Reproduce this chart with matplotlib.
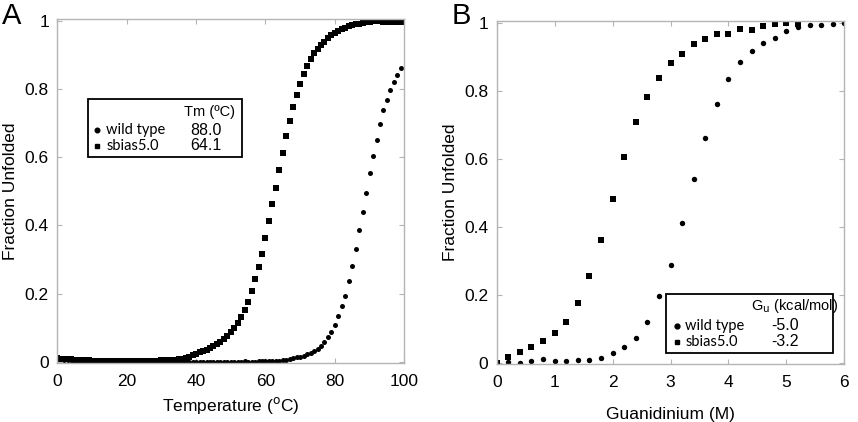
import matplotlib
matplotlib.use('Agg')
import matplotlib.pyplot as plt
from matplotlib.patches import Rectangle

plt.rcParams['font.family'] = ['Liberation Sans', 'DejaVu Sans']

# panel A: thermal melt, fraction unfolded vs temperature (C)
temp_sbias = list(range(0, 101))
frac_sbias = [0.010, 0.009, 0.008, 0.008, 0.007, 0.006, 0.005, 0.005, 0.004, 0.004,
              0.003, 0.003, 0.003, 0.002, 0.002, 0.002, 0.002, 0.002, 0.002, 0.002,
              0.002, 0.002, 0.002, 0.002, 0.002, 0.002, 0.003, 0.003, 0.003, 0.003,
              0.004, 0.004, 0.005, 0.005, 0.006, 0.007, 0.009, 0.012, 0.015, 0.019,
              0.022, 0.027, 0.030, 0.035, 0.040, 0.046, 0.052, 0.059, 0.066, 0.075,
              0.086, 0.098, 0.113, 0.132, 0.152, 0.176, 0.208, 0.243, 0.278, 0.316,
              0.364, 0.413, 0.463, 0.510, 0.564, 0.612, 0.662, 0.706, 0.748, 0.784,
              0.815, 0.846, 0.869, 0.888, 0.907, 0.918, 0.930, 0.940, 0.950, 0.958,
              0.965, 0.971, 0.977, 0.981, 0.985, 0.988, 0.991, 0.993, 0.995, 0.997,
              0.998, 0.999, 1.000, 0.999, 0.998, 0.998, 0.997, 0.997, 0.996, 0.996,
              0.996]
temp_wt = list(range(0, 100))
frac_wt = [0.008, 0.007, 0.006, 0.005, 0.005, 0.004, 0.004, 0.003, 0.003, 0.002,
           0.002, 0.002, 0.002, 0.001, 0.001, 0.001, 0.001, 0.001, 0.001, 0.001,
           0.001, 0.001, 0.001, 0.001, 0.001, 0.001, 0.001, 0.001, 0.001, 0.001,
           0.000, 0.000, 0.000, 0.000, 0.000, 0.000, 0.000, 0.000, 0.000, 0.000,
           0.000, 0.000, 0.000, 0.000, 0.000, 0.000, 0.000, 0.000, 0.000, 0.000,
           0.000, 0.000, 0.000, 0.000, 0.001, 0.000, 0.000, 0.000, 0.001, 0.001,
           0.001, 0.001, 0.002, 0.002, 0.003, 0.004, 0.006, 0.008, 0.010, 0.013,
           0.015, 0.018, 0.022, 0.026, 0.032, 0.038, 0.047, 0.058, 0.072, 0.088,
           0.108, 0.134, 0.163, 0.194, 0.237, 0.282, 0.331, 0.387, 0.440, 0.496,
           0.553, 0.604, 0.651, 0.699, 0.739, 0.768, 0.797, 0.821, 0.841, 0.863]

# panel B: guanidinium denaturation
gdn_sbias = [0.0, 0.2, 0.4, 0.6, 0.8, 1.0, 1.2, 1.4, 1.6, 1.8, 2.0, 2.2, 2.4, 2.6,
             2.8, 3.0, 3.2, 3.4, 3.6, 3.8, 4.0, 4.2, 4.4, 4.6, 4.8, 5.0, 5.2]
gfrac_sbias = [0.000, 0.020, 0.034, 0.049, 0.067, 0.089, 0.122, 0.178, 0.257, 0.364,
               0.483, 0.608, 0.709, 0.784, 0.840, 0.884, 0.909, 0.940, 0.953, 0.970,
               0.968, 0.983, 0.980, 0.991, 0.997, 1.000, 0.997]
gdn_wt = [0.2, 0.4, 0.6, 0.8, 1.0, 1.2, 1.4, 1.6, 1.8, 2.0, 2.2, 2.4, 2.6, 2.8,
          3.0, 3.2, 3.4, 3.6, 3.8, 4.0, 4.2, 4.4, 4.6, 4.8, 5.0, 5.2, 5.4, 5.6,
          5.8, 6.0]
gfrac_wt = [0.005, 0.001, 0.007, 0.012, 0.008, 0.007, 0.010, 0.010, 0.016, 0.029,
            0.049, 0.074, 0.122, 0.198, 0.289, 0.412, 0.541, 0.664, 0.762, 0.835,
            0.887, 0.920, 0.943, 0.958, 0.977, 0.990, 0.995, 0.996, 0.998, 1.000]

fig = plt.figure(figsize=(8.58, 4.22), dpi=100)
axA = fig.add_axes([0.0668, 0.1398, 0.4044, 0.815])
axB = fig.add_axes([0.5789, 0.1374, 0.4052, 0.8136])

frame_col = '#b4b4b4'

def style_axes(ax):
    for sp in ax.spines.values():
        sp.set_color(frame_col)
        sp.set_linewidth(1.0)
    ax.tick_params(direction='in', length=3.5, width=0.8, color=frame_col,
                   top=True, right=True, labelsize=12.5)
    ax.tick_params(axis='x', pad=8)
    ax.tick_params(axis='y', pad=6)
    ax.set_ylabel('Fraction Unfolded', fontsize=12.5)
    ax.yaxis.set_label_coords(-0.112, 0.5)
    ax.set_yticks([0, 0.2, 0.4, 0.6, 0.8, 1])
    ax.set_yticklabels(['0', '0.2', '0.4', '0.6', '0.8', '1'])

def key_box(ax, box, header, header_xy, names, vals, name_x, mark_x, val_x, rows_y, ms):
    ax.add_patch(Rectangle((box[0], box[1]), box[2], box[3], transform=ax.transAxes,
                           facecolor='white', edgecolor='black', lw=1.3, zorder=5))
    ax.text(header_xy[0], header_xy[1], header, transform=ax.transAxes, ha='center',
            va='center', fontsize=10.5, zorder=6)
    for nm, v, y, mk in zip(names, vals, rows_y, ['o', 's']):
        ax.plot([mark_x], [y], mk, color='black', ms=ms, transform=ax.transAxes,
                zorder=6, clip_on=False)
        ax.text(name_x, y, nm, transform=ax.transAxes, ha='left', va='center',
                fontsize=10.5, family=['Lato', 'DejaVu Sans'], zorder=6)
        ax.text(val_x, y, v, transform=ax.transAxes, ha='center', va='center',
                fontsize=11.5, zorder=6)

# panel A
style_axes(axA)
axA.plot(temp_sbias, frac_sbias, 's', color='black', ms=3.7, mew=0)
axA.plot(temp_wt, frac_wt, 'o', color='black', ms=3.6, mew=0)
axA.set_xlim(0, 100)
axA.set_ylim(-0.004, 1.006)
axA.set_xticks([0, 20, 40, 60, 80, 100])
axA.set_xlabel('Temperature ($^{\\rm o}$C)', fontsize=12.5, va='top')
axA.xaxis.set_label_coords(0.5, -0.092)
key_box(axA, (0.0885, 0.599, 0.4435, 0.168), 'Tm (\u00baC)', (0.439, 0.730),
        ['wild type', 'sbias5.0'], ['88.0', '64.1'],
        0.1406, 0.114, 0.428, [0.677, 0.631], 3.3)
fig.text(0.002, 0.962, 'A', fontsize=21, ha='left', va='center')

# panel B
style_axes(axB)
axB.plot(gdn_sbias, gfrac_sbias, 's', color='black', ms=4.3, mew=0)
axB.plot(gdn_wt, gfrac_wt, 'o', color='black', ms=3.9, mew=0)
axB.set_xlim(0, 6)
axB.set_ylim(-0.002, 1.008)
axB.set_xticks([0, 1, 2, 3, 4, 5, 6])
axB.set_xlabel('Guanidinium (M)', fontsize=12.5, va='top')
axB.xaxis.set_label_coords(0.5, -0.125)
key_box(axB, (0.487, 0.032, 0.48, 0.172), 'G$_{\\rm u}$ (kcal/mol)', (0.857, 0.169),
        ['wild type', 'sbias5.0'], ['-5.0', '-3.2'],
        0.542, 0.518, 0.829, [0.111, 0.065], 3.5)
fig.text(0.526, 0.962, 'B', fontsize=21, ha='left', va='center')

fig.savefig('out.png', dpi=100)
